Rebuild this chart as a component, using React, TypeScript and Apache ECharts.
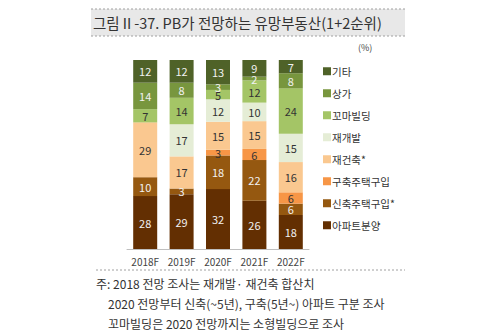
import React, { useEffect, useRef } from "react";
import * as echarts from "echarts";

const categories = ["2018F", "2019F", "2020F", "2021F", "2022F"];
const seriesNames = ["아파트분양", "신축주택구입*", "구축주택구입", "재건축*", "재개발", "꼬마빌딩", "상가", "기타"];
const apt = [28, 29, 32, 26, 18];
const newHouse = [10, 3, 18, 22, 6];
const oldHouse = [0, 0, 3, 6, 6];
const rebuild = [29, 17, 15, 15, 16];
const redevelop = [0, 17, 12, 10, 15];
const smallBldg = [7, 14, 5, 12, 24];
const shops = [14, 8, 3, 2, 8];
const others = [12, 12, 13, 9, 7];
const seriesValues = [apt, newHouse, oldHouse, rebuild, redevelop, smallBldg, shops, others];
const colors = ["#632F02", "#955810", "#F79646", "#FAC890", "#E5EDD6", "#A4C566", "#78963E", "#4F6228"];
const labelColors = ["#F2F2F2", "#F2F2F2", "#333333", "#333333", "#333333", "#333333", "#F2F2F2", "#F2F2F2"];
const notes = [
  "주: 2018 전망 조사는 재개발· 재건축 합산치",
  "2020 전망부터 신축(~5년), 구축(5년~) 아파트 구분 조사",
  "꼬마빌딩은 2020 전망까지는 소형빌딩으로 조사",
];

const FONT = "'Noto Sans CJK KR', 'Noto Sans', sans-serif";

export default function App() {
  const ref = useRef<HTMLDivElement>(null);
  useEffect(() => {
    if (!ref.current) return;
    const chart = echarts.init(ref.current, null, { renderer: "svg" });
    const totals = categories.map((_, i) => seriesValues.reduce((s, arr) => s + arr[i], 0));
    const series = seriesNames.map((name, k) => ({
      name,
      type: "bar",
      stack: "all",
      barWidth: 24,
      itemStyle: { color: colors[k] },
      label: {
        show: true,
        position: "inside",
        color: labelColors[k],
        fontSize: 11,
        fontFamily: FONT,
        formatter: (p: any) => {
          const v = seriesValues[k][p.dataIndex];
          return v > 0 ? String(v) : "";
        },
      },
      data: seriesValues[k].map((v, i) => (v * 100) / totals[i]),
    }));
    chart.setOption({
      animation: false,
      textStyle: { fontFamily: FONT },
      grid: { left: 127, right: 191, top: 60, bottom: 84 },
      xAxis: {
        type: "category",
        data: categories,
        axisLine: { lineStyle: { color: "#BFBFBF", width: 1 } },
        axisTick: { show: false },
        axisLabel: { color: "#444", fontSize: 10, margin: 7, fontFamily: FONT },
      },
      yAxis: {
        type: "value",
        min: 0,
        max: 100,
        show: false,
        splitLine: { show: false },
      },
      legend: {
        orient: "vertical",
        left: 318,
        top: 61,
        itemWidth: 8,
        itemHeight: 8,
        itemGap: 11.5,
        icon: "rect",
        data: [...seriesNames].reverse(),
        textStyle: { fontSize: 10.5, color: "#333", fontFamily: FONT, padding: [0, 0, 0, -4] },
      },
      graphic: [
        { type: "rect", shape: { x: 91, y: 9, width: 314, height: 27 }, style: { fill: "#E8E8E8" } },
        { type: "line", shape: { x1: 91, y1: 9, x2: 405, y2: 9 }, style: { stroke: "#A0A0A0", lineDash: [2, 2], lineWidth: 1 } },
        { type: "line", shape: { x1: 91, y1: 36, x2: 405, y2: 36 }, style: { stroke: "#A0A0A0", lineDash: [2, 2], lineWidth: 1 } },
        {
          type: "text",
          x: 93,
          y: 22.5,
          style: { text: "그림Ⅱ-37. PB가 전망하는 유망부동산(1+2순위)", fill: "#333", font: `14.5px ${FONT}`, verticalAlign: "middle" },
        },
        { type: "text", x: 358, y: 47, style: { text: "(%)", fill: "#444", font: `9px ${FONT}`, verticalAlign: "middle" } },
        { type: "line", shape: { x1: 96, y1: 270, x2: 405, y2: 270 }, style: { stroke: "#A0A0A0", lineDash: [2, 2], lineWidth: 1 } },
        { type: "text", x: 96, y: 283, style: { text: notes[0], fill: "#333", font: `12px ${FONT}`, verticalAlign: "middle" } },
        { type: "text", x: 108, y: 303, style: { text: notes[1], fill: "#333", font: `12px ${FONT}`, verticalAlign: "middle" } },
        { type: "text", x: 108, y: 323, style: { text: notes[2], fill: "#333", font: `12px ${FONT}`, verticalAlign: "middle" } },
      ],
      series,
    });
    return () => chart.dispose();
  }, []);
  return <div ref={ref} style={{ width: 500, height: 333, position: "absolute", left: 0, top: 0, background: "#fff" }} />;
}
